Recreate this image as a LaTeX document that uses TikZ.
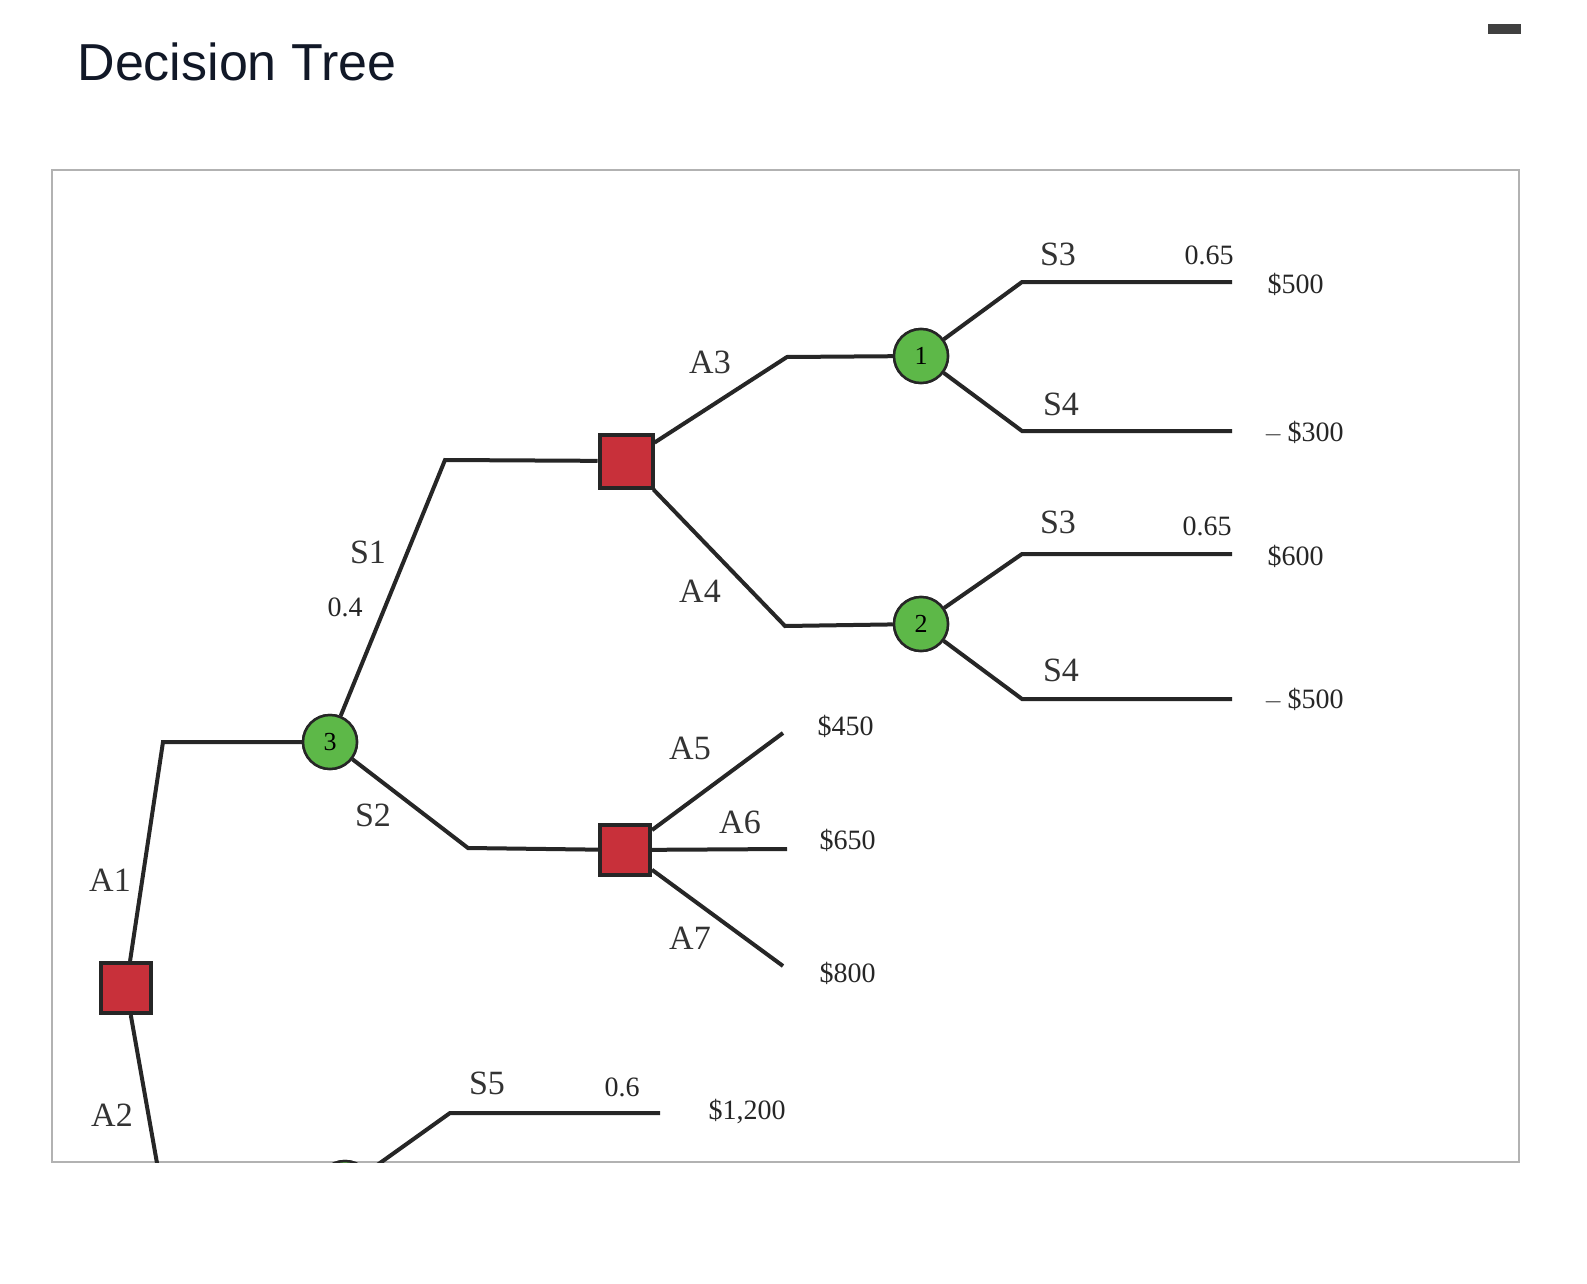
\documentclass[tikz,border=0pt]{standalone}
\usepackage{fontspec}
\setmainfont{Liberation Serif}
\newfontfamily\titlefont{Liberation Sans}
\definecolor{dred}{HTML}{C8303A}
\definecolor{dgreen}{HTML}{5DB848}
\definecolor{ttl}{HTML}{111827}
\begin{document}
\begin{tikzpicture}[x=1pt,y=-1pt,
  br/.style={line width=4pt,draw=black!85},
  dec/.style={draw=black!85,line width=4pt,fill=dred,minimum size=50pt,inner sep=0pt},
  ch/.style={circle,draw=black!85,line width=2.5pt,fill=dgreen,minimum size=54pt,inner sep=0pt,font=\fontsize{26}{26}\selectfont},
  lab/.style={font=\fontsize{34}{34}\selectfont,text=black!80},
  num/.style={font=\fontsize{28}{28}\selectfont,text=black!85}]
\useasboundingbox (0,0) rectangle (1587,1284);
\fill[white] (0,0) rectangle (1587,1284);
\node[anchor=west,font=\titlefont\fontsize{52}{52}\selectfont,text=ttl] (title) at (74,62) {Decision Tree};
\fill[black!75] (1488,24) rectangle (1521,34);
\node[draw=black!30,line width=2pt,minimum width=1467pt,minimum height=992pt,inner sep=0pt] (frame) at (785.5,666) {};
\begin{scope}
\clip (52,170) rectangle (1519,1162);
\node[dec] (d0) at (126,988) {};
\node[ch] (c3) at (330,742) {3};
\node[dec,minimum size=53pt] (d1) at (626,461) {};
\node[dec] (d2) at (625,850) {};
\node[ch] (c1) at (921,356) {1};
\node[ch] (c2) at (921,624) {2};
\node[ch] (c4) at (345,1188) {};
\coordinate (p1) at (163,742);
\coordinate (p2) at (445,460);
\coordinate (p3) at (468,848);
\coordinate (p4) at (787,357);
\coordinate (p5) at (785,626);
\coordinate (q1) at (1022,282); \coordinate (e1) at (1232,282);
\coordinate (q2) at (1022,431); \coordinate (e2) at (1232,431);
\coordinate (q3) at (1022,554); \coordinate (e3) at (1232,554);
\coordinate (q4) at (1022,699); \coordinate (e4) at (1232,699);
\coordinate (e5) at (783,733);
\coordinate (e6) at (787,849);
\coordinate (e7) at (783,966);
\coordinate (a2e) at (160,1180);
\coordinate (p6) at (450,1113); \coordinate (e8) at (660,1113);
\draw[br] (d0) -- (p1) -- (c3);
\draw[br] (d0) -- (a2e);
\draw[br] (c3) -- (p2) -- (d1);
\draw[br] (c3) -- (p3) -- (d2);
\draw[br] (d1) -- (p4) -- (c1);
\draw[br] (d1) -- (p5) -- (c2);
\draw[br] (c1) -- (q1) -- (e1);
\draw[br] (c1) -- (q2) -- (e2);
\draw[br] (c2) -- (q3) -- (e3);
\draw[br] (c2) -- (q4) -- (e4);
\draw[br] (d2) -- (e5);
\draw[br] (d2) -- (e6);
\draw[br] (d2) -- (e7);
\draw[br] (c4) -- (p6) -- (e8);
\node[dec] at (126,988) {};
\node[ch] at (330,742) {3};
\node[dec,minimum size=53pt] at (626,461) {};
\node[dec] at (625,850) {};
\node[ch] at (921,356) {1};
\node[ch] at (921,624) {2};
\node[ch] at (345,1188) {};
\end{scope}
\node[lab] (la1) at (110,880) {A1};
\node[lab] (la2) at (112,1115) {A2};
\node[lab] (ls1) at (368,552) {S1};
\node[num] (n04) at (345,607) {0.4};
\node[lab] (ls2) at (373,815) {S2};
\node[lab] (la3) at (710,362) {A3};
\node[lab] (la4) at (700,591) {A4};
\node[lab] (la5) at (690,748) {A5};
\node[lab] (la6) at (740,822) {A6};
\node[lab] (la7) at (690,938) {A7};
\node[lab] (ls3a) at (1058,254) {S3};
\node[lab] (ls4a) at (1061,404) {S4};
\node[lab] (ls3b) at (1058,522) {S3};
\node[lab] (ls4b) at (1061,670) {S4};
\node[lab] (ls5) at (487,1083) {S5};
\node[num] (n65a) at (1209,255) {0.65};
\node[num] (n65b) at (1207,526) {0.65};
\node[num] (n06) at (622,1087) {0.6};
\node[num,anchor=west] (v1) at (1264,284) {\$500};
\node[num,anchor=west] (v2) at (1260,432) {$-$\,\$300};
\node[num,anchor=west] (v3) at (1264,556) {\$600};
\node[num,anchor=west] (v4) at (1260,699) {$-$\,\$500};
\node[num,anchor=west] (v5) at (814,726) {\$450};
\node[num,anchor=west] (v6) at (816,840) {\$650};
\node[num,anchor=west] (v7) at (816,973) {\$800};
\node[num,anchor=west] (v8) at (705,1112) {\$1,200};
\end{tikzpicture}
\end{document}
